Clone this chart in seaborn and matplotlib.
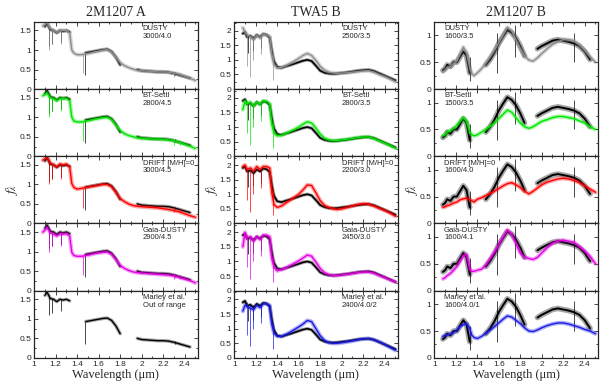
import numpy as np
import pandas as pd
import matplotlib
matplotlib.use("Agg")
import matplotlib.pyplot as plt
import matplotlib.ticker as mticker
import seaborn as sns

# 波长网格 (μm), 所有光谱共用
wave = [1.08, 1.10, 1.12, 1.15, 1.18, 1.21, 1.24, 1.27, 1.30, 1.33, 1.35, 1.37,
        1.40, 1.44, 1.48, 1.52, 1.56, 1.60, 1.64, 1.68, 1.72, 1.76, 1.80, 1.84,
        1.88, 1.92, 1.96, 2.00, 2.05, 2.10, 2.15, 2.20, 2.25, 2.30, 2.35, 2.40,
        2.45, 2.50]
nan = np.nan

# ---- 2M1207 A ----
obs_A = [nan, 1.60, 1.68, 1.52, 1.50, 1.44, 1.50, 1.48, 1.50, 1.46, nan, nan,
         nan, nan, 0.93, 0.95, 0.97, 0.99, 1.01, 1.02, 0.96, 0.82, 0.62, nan,
         nan, nan, 0.50, 0.47, 0.46, 0.45, 0.44, 0.44, 0.43, 0.40, 0.36, 0.32,
         0.28, nan]
dusty_A = [1.62, 1.65, 1.70, 1.55, 1.50, 1.45, 1.50, 1.50, 1.50, 1.44, 1.00, 0.92,
           0.88, 0.88, 0.90, 0.92, 0.95, 0.97, 1.00, 1.01, 0.95, 0.82, 0.68, 0.60,
           0.55, 0.51, 0.48, 0.47, 0.46, 0.45, 0.44, 0.44, 0.43, 0.41, 0.38, 0.33,
           0.28, 0.22]
btsettl_A = [1.55, 1.58, 1.62, 1.50, 1.48, 1.42, 1.48, 1.48, 1.48, 1.42, 1.00, 0.90,
             0.88, 0.88, 0.90, 0.92, 0.95, 0.97, 0.99, 1.00, 0.94, 0.80, 0.66, 0.58,
             0.53, 0.50, 0.47, 0.46, 0.45, 0.44, 0.44, 0.43, 0.42, 0.40, 0.36, 0.31,
             0.26, 0.20]
drift_A = [1.62, 1.66, 1.70, 1.55, 1.50, 1.45, 1.52, 1.50, 1.52, 1.45, 1.02, 0.92,
           0.88, 0.90, 0.92, 0.94, 0.96, 0.98, 1.00, 1.00, 0.94, 0.80, 0.64, 0.56,
           0.50, 0.46, 0.44, 0.43, 0.42, 0.41, 0.40, 0.38, 0.36, 0.33, 0.30, 0.25,
           0.20, 0.16]
gaia_A = [1.50, 1.55, 1.62, 1.48, 1.45, 1.40, 1.45, 1.45, 1.46, 1.40, 0.98, 0.90,
          0.88, 0.88, 0.90, 0.92, 0.95, 0.97, 0.98, 0.99, 0.93, 0.80, 0.65, 0.57,
          0.52, 0.48, 0.46, 0.45, 0.44, 0.43, 0.42, 0.41, 0.40, 0.38, 0.34, 0.30,
          0.26, 0.20]

# ---- TWA5 B ----
obs_T = [1.90, 1.95, 1.78, 1.82, 1.72, 1.85, 1.78, 1.88, 1.86, 1.76, 1.30, 0.95,
         0.76, 0.73, 0.78, 0.82, 0.87, 0.92, 0.97, 1.00, 0.96, 0.80, 0.63, 0.56,
         0.53, 0.52, 0.53, 0.55, 0.57, 0.60, 0.63, 0.65, 0.66, 0.62, 0.54, 0.46,
         0.38, 0.30]
dusty_T = [2.10, 1.95, 1.85, 1.80, 1.70, 1.85, 1.75, 1.88, 1.85, 1.80, 1.20, 0.85,
           0.72, 0.74, 0.80, 0.88, 0.96, 1.05, 1.15, 1.22, 1.15, 0.98, 0.78, 0.65,
           0.58, 0.55, 0.54, 0.55, 0.56, 0.58, 0.60, 0.62, 0.63, 0.58, 0.50, 0.43,
           0.35, 0.25]
btsettl_T = [1.60, 1.90, 1.80, 1.85, 1.72, 1.85, 1.78, 1.90, 1.88, 1.80, 1.10, 0.80,
             0.70, 0.72, 0.78, 0.85, 0.92, 1.00, 1.10, 1.18, 1.14, 0.96, 0.76, 0.62,
             0.56, 0.54, 0.54, 0.56, 0.58, 0.61, 0.64, 0.66, 0.66, 0.61, 0.53, 0.45,
             0.37, 0.28]
drift_T = [1.95, 2.00, 1.85, 1.90, 1.80, 1.95, 1.85, 1.95, 1.95, 1.90, 1.05, 0.65,
           0.55, 0.60, 0.70, 0.80, 0.90, 1.00, 1.15, 1.32, 1.30, 1.05, 0.78, 0.62,
           0.55, 0.50, 0.48, 0.50, 0.55, 0.60, 0.65, 0.68, 0.66, 0.60, 0.52, 0.45,
           0.36, 0.25]
gaia_T = [1.50, 2.00, 1.80, 1.85, 1.70, 1.85, 1.75, 1.90, 1.90, 1.85, 1.10, 0.80,
          0.68, 0.72, 0.78, 0.86, 0.94, 1.02, 1.12, 1.22, 1.18, 0.98, 0.76, 0.62,
          0.55, 0.52, 0.52, 0.54, 0.56, 0.59, 0.62, 0.64, 0.64, 0.60, 0.52, 0.45,
          0.37, 0.30]
marley_T = [1.60, 1.80, 1.75, 1.70, 1.65, 1.80, 1.72, 1.85, 1.85, 1.80, 1.15, 0.85,
            0.74, 0.74, 0.80, 0.88, 0.97, 1.06, 1.16, 1.28, 1.24, 1.00, 0.76, 0.60,
            0.52, 0.50, 0.50, 0.52, 0.55, 0.58, 0.62, 0.65, 0.66, 0.62, 0.55, 0.46,
            0.36, 0.26]

# ---- 2M1207 B ----
obs_B = [0.35, 0.38, 0.45, 0.42, 0.50, 0.50, 0.60, 0.70, 0.62, 0.30, nan, nan,
         nan, nan, 0.45, 0.55, 0.68, 0.85, 0.98, 1.10, 1.05, 0.95, 0.80, 0.62,
         nan, nan, 0.75, 0.80, 0.85, 0.90, 0.92, 0.90, 0.88, 0.85, 0.80, 0.70,
         0.55, nan]
dusty_B = [0.32, 0.35, 0.40, 0.42, 0.48, 0.52, 0.65, 0.78, 0.68, 0.40, 0.28, 0.25,
           0.30, 0.38, 0.48, 0.60, 0.72, 0.86, 1.00, 1.15, 1.08, 0.92, 0.76, 0.62,
           0.54, 0.52, 0.58, 0.66, 0.75, 0.83, 0.88, 0.92, 0.92, 0.90, 0.82, 0.72,
           0.60, 0.50]
btsettl_B = [0.38, 0.40, 0.45, 0.48, 0.52, 0.58, 0.65, 0.72, 0.65, 0.45, 0.40, 0.38,
             0.40, 0.45, 0.50, 0.56, 0.62, 0.70, 0.78, 0.86, 0.82, 0.72, 0.62, 0.55,
             0.52, 0.55, 0.60, 0.65, 0.68, 0.72, 0.74, 0.74, 0.72, 0.70, 0.66, 0.62,
             0.55, 0.50]
drift_B = [0.30, 0.31, 0.33, 0.35, 0.38, 0.40, 0.44, 0.46, 0.47, 0.45, 0.42, 0.40,
           0.45, 0.48, 0.52, 0.56, 0.60, 0.65, 0.70, 0.74, 0.76, 0.72, 0.67, 0.60,
           0.55, 0.60, 0.66, 0.72, 0.77, 0.80, 0.83, 0.84, 0.83, 0.80, 0.76, 0.70,
           0.64, 0.58]
gaia_B = [0.22, 0.24, 0.28, 0.32, 0.38, 0.45, 0.55, 0.65, 0.68, 0.40, 0.36, 0.36,
          0.38, 0.40, 0.48, 0.60, 0.72, 0.85, 1.00, 1.13, 1.05, 0.88, 0.70, 0.62,
          0.60, 0.58, 0.62, 0.70, 0.80, 0.88, 0.92, 0.94, 0.92, 0.90, 0.82, 0.74,
          0.64, 0.50]
marley_B = [0.40, 0.42, 0.43, 0.44, 0.47, 0.52, 0.58, 0.62, 0.64, 0.55, 0.42, 0.38,
            0.36, 0.40, 0.46, 0.52, 0.58, 0.65, 0.72, 0.78, 0.76, 0.70, 0.64, 0.56,
            0.50, 0.49, 0.52, 0.56, 0.60, 0.63, 0.65, 0.65, 0.63, 0.60, 0.57, 0.53,
            0.50, 0.45]

# 窄吸收线/坏点 (波长, 下端, 上端)
spike_obs_A = ([1.14, 1.17, 1.25, 1.47, 2.31], [1.10, 1.15, 1.20, 0.35, 0.36], [1.60, 1.50, 1.50, 0.93, 0.43])
spike_mod_A = ([1.14, 1.17, 1.25, 1.45, 2.30, 2.36], [1.00, 1.15, 1.15, 0.40, 0.30, 0.30], [1.55, 1.50, 1.50, 0.90, 0.42, 0.40])
spike_obs_T = ([1.13, 1.17, 1.25], [1.25, 1.30, 1.40], [1.80, 1.80, 1.80])
spike_mod_T = ([1.12, 1.15, 1.17, 1.25, 1.36], [0.80, 0.40, 1.00, 1.20, 0.30], [1.90, 1.80, 1.75, 1.80, 1.20])
spike_obs_B = ([1.33, 1.58, 1.75, 2.30], [0.15, 0.30, 0.60, 0.50], [0.60, 1.05, 1.20, 1.05])
spike_mod_B = ([], [], [])

# 标题与每格的文字
titles = ["2M1207 A", "TWA5 B", "2M1207 B"]
model_names = ["DUSTY", "BT-Settl", "DRIFT [M/H]=0", "Gaia-DUSTY", "Marley et al."]
params_A = ["3000/4.0", "2800/4.5", "3000/4.5", "2900/4.5", "Out of range"]
params_T = ["2500/3.5", "2800/3.5", "2200/3.0", "2450/3.0", "2400/4.0/2"]
params_B = ["1600/3.5", "1500/3.5", "1600/4.0", "1600/4.1", "1600/4.0/1"]
model_colors = ["#8c8c8c", "#00e600", "#ff0000", "#e600e6", "#1a1ae6"]

columns = [
    dict(obs=obs_A, models=[dusty_A, btsettl_A, drift_A, gaia_A, None], params=params_A,
         spk_o=spike_obs_A, spk_m=spike_mod_A,
         ylim=(0, 1.72), yticks=[0, 0.5, 1, 1.5], obs_lw=1.0, text_x=0.665),
    dict(obs=obs_T, models=[dusty_T, btsettl_T, drift_T, gaia_T, marley_T], params=params_T,
         spk_o=spike_obs_T, spk_m=spike_mod_T,
         ylim=(0, 2.3), yticks=[0, 0.5, 1, 1.5, 2], obs_lw=1.2, text_x=0.66),
    dict(obs=obs_B, models=[dusty_B, btsettl_B, drift_B, gaia_B, marley_B], params=params_B,
         spk_o=spike_obs_B, spk_m=spike_mod_B,
         ylim=(0, 1.25), yticks=[0, 0.5, 1], obs_lw=1.4, text_x=0.06),
]


def draw_spec(ax, flux, color, lw, halo):
    # NaN 处断开 (观测数据中的波段间隙)
    df = pd.DataFrame({"wl": wave, "f": flux})
    df["seg"] = df["f"].isna().cumsum()
    df = df.dropna()
    # 半透明的宽线模拟噪声带, 再画中心线
    sns.lineplot(data=df, x="wl", y="f", units="seg", estimator=None, sort=False,
                 color=color, lw=halo, alpha=0.35, ax=ax)
    sns.lineplot(data=df, x="wl", y="f", units="seg", estimator=None, sort=False,
                 color=color, lw=lw, ax=ax)


sns.set_style("ticks")
plt.rcParams["font.family"] = ["Liberation Sans", "DejaVu Sans"]
plt.rcParams["mathtext.fontset"] = "stix"

fig, axes = plt.subplots(5, 3, figsize=(6, 3.84), dpi=100,
                         gridspec_kw=dict(hspace=0, wspace=0.225))
fig.subplots_adjust(left=0.057, right=0.996, top=0.943, bottom=0.068)

for c, col in enumerate(columns):
    for r in range(5):
        ax = axes[r, c]
        halo_o = 4.0 if c == 2 else 2.5
        draw_spec(ax, col["obs"], "black", col["obs_lw"], halo_o)
        ax.vlines(col["spk_o"][0], col["spk_o"][1], col["spk_o"][2], color="black", lw=0.5)
        if col["models"][r] is not None:
            draw_spec(ax, col["models"][r], model_colors[r], 1.0, 3.0)
            ax.vlines(col["spk_m"][0], col["spk_m"][1], col["spk_m"][2],
                      color=model_colors[r], lw=0.5)
        ax.set_xlim(1.0, 2.52)
        ax.set_ylim(*col["ylim"])
        ax.set_yticks(col["yticks"])
        ax.xaxis.set_major_locator(mticker.MultipleLocator(0.2))
        ax.xaxis.set_minor_locator(mticker.MultipleLocator(0.1))
        ax.yaxis.set_minor_locator(mticker.MultipleLocator(0.25))
        ax.xaxis.set_major_formatter(mticker.FormatStrFormatter("%g"))
        ax.yaxis.set_major_formatter(mticker.FormatStrFormatter("%g"))
        ax.tick_params(which="both", direction="in", top=True, right=True,
                       labelsize=6, pad=2, width=0.6)
        ax.tick_params(which="major", length=3)
        ax.tick_params(which="minor", length=1.5)
        for s in ax.spines.values():
            s.set_linewidth(0.9)
        ax.set_xlabel("")
        ax.set_ylabel("")
        if r < 4:
            ax.tick_params(labelbottom=False)
        else:
            ax.set_xlabel("Wavelength (μm)", family="Liberation Serif", fontsize=9, labelpad=1)
        if r == 2:
            ax.set_ylabel(r"$f_\lambda$", fontsize=10, labelpad=0)
        ax.text(col["text_x"], 0.95, model_names[r] + "\n" + col["params"][r],
                transform=ax.transAxes, ha="left", va="top", fontsize=5.5,
                linespacing=1.1)
    axes[0, c].set_title(titles[c], family="Liberation Serif", fontsize=10, pad=4)

plt.savefig("out.png", dpi=100)
